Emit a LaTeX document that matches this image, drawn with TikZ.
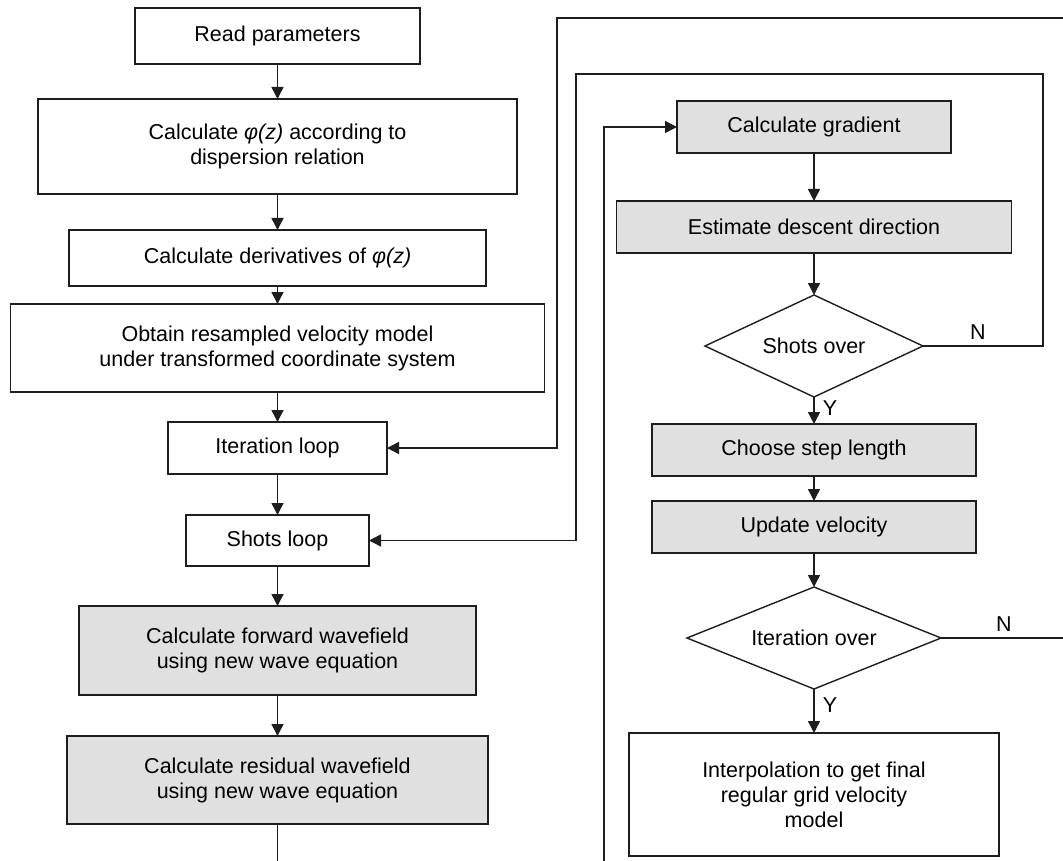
\documentclass[tikz,border=0pt]{standalone}
\usepackage{fontspec}
\setmainfont{Liberation Sans}
\usetikzlibrary{shapes.geometric,arrows.meta}
\definecolor{boxgray}{RGB}{223,224,223}
\definecolor{inkgray}{RGB}{30,30,30}
\tikzstyle{procbox} = [draw=inkgray, rectangle, fill=white, line width=1.6pt,
    inner sep=0pt, outer sep=0pt, align=center, text=black]
\tikzstyle{grayproc} = [procbox, fill=boxgray]
\tikzstyle{decision} = [draw=inkgray, diamond, aspect=2.2, fill=white,
    line width=1.4pt, inner sep=0pt, outer sep=0pt, text=black]
\tikzstyle{flow} = [draw=inkgray, line width=1.5pt, -{Triangle[length=12pt,width=12pt]}]
\tikzstyle{yn} = [inner sep=0pt, text=black]

\begin{document}
\begin{tikzpicture}[x=1pt, y=-1pt, font=\fontsize{21.5}{25}\selectfont]
  \useasboundingbox (0,0) rectangle (1063,861);
  % left column
  \node [procbox, minimum width=285pt, minimum height=56pt] (read) at (277.5,36) {Read parameters};
  \node [procbox, minimum width=479pt, minimum height=95pt] (phi) at (277.5,146.5)
    {Calculate \textit{φ(z)} according to\\dispersion relation};
  \node [procbox, minimum width=417pt, minimum height=56pt] (deriv) at (277.5,258)
    {Calculate derivatives of \textit{φ(z)}};
  \node [procbox, minimum width=534pt, minimum height=88pt] (resamp) at (277.5,348)
    {Obtain resampled velocity model\\under transformed coordinate system};
  \node [procbox, minimum width=219pt, minimum height=52pt] (iterloop) at (277.5,448) {Iteration loop};
  \node [procbox, minimum width=183pt, minimum height=51pt] (shotloop) at (277.5,540.5) {Shots loop};
  \node [grayproc, minimum width=397pt, minimum height=89pt] (fwd) at (277.5,650.5)
    {Calculate forward wavefield\\using new wave equation};
  \node [grayproc, minimum width=421pt, minimum height=88pt] (resid) at (277.5,780)
    {Calculate residual wavefield\\using new wave equation};
  % right column
  \node [grayproc, minimum width=274pt, minimum height=52pt] (grad) at (814,127) {Calculate gradient};
  \node [grayproc, minimum width=395pt, minimum height=52pt] (descent) at (814,227)
    {Estimate descent direction};
  \node [decision, minimum width=218pt, minimum height=102pt] (shotsover) at (814,346) {Shots over};
  \node [grayproc, minimum width=324pt, minimum height=52pt] (steplen) at (814,450) {Choose step length};
  \node [grayproc, minimum width=324pt, minimum height=52pt] (update) at (814,527) {Update velocity};
  \node [decision, minimum width=254pt, minimum height=102pt] (iterover) at (814,638) {Iteration over};
  \node [procbox, minimum width=370pt, minimum height=123pt] (interp) at (814,794.5)
    {Interpolation to get final\\regular grid velocity\\model};
  % turning points of the loops
  \coordinate (lowturn) at (604,885);
  \coordinate (shotturn) at (1043,74);
  \coordinate (shotback) at (576,74);
  \coordinate (iterturn) at (1085,18);
  \coordinate (iterback) at (557,18);

  \draw [flow] (read) -- (phi);
  \draw [flow] (phi) -- (deriv);
  \draw [flow] (deriv) -- (resamp);
  \draw [flow] (resamp) -- (iterloop);
  \draw [flow] (iterloop) -- (shotloop);
  \draw [flow] (shotloop) -- (fwd);
  \draw [flow] (fwd) -- (resid);
  \draw [flow] (resid.south) |- (lowturn) |- (grad.west);
  \draw [flow] (grad) -- (descent);
  \draw [flow] (descent) -- (shotsover.north);
  \draw [flow] (shotsover.south) -- (steplen);
  \draw [flow] (steplen) -- (update);
  \draw [flow] (update) -- (iterover.north);
  \draw [flow] (iterover.south) -- (interp);
  \draw [flow] (shotsover.east) -| (shotturn) -- (shotback) |- (shotloop.east);
  \draw [flow] (iterover.east) -| (iterturn) -- (iterback) |- (iterloop.east);

  \node [yn] (nshots) at (978,332) {N};
  \node [yn] (yshots) at (830,408) {Y};
  \node [yn] (niter) at (1004,624) {N};
  \node [yn] (yiter) at (830,705) {Y};
\end{tikzpicture}
\end{document}
